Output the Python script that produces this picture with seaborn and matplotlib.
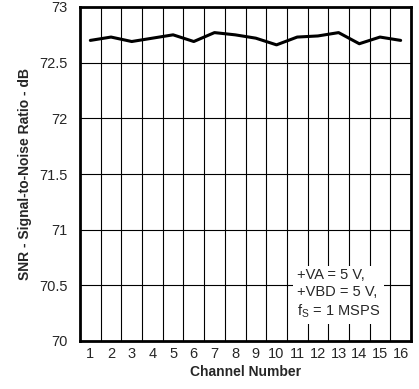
import matplotlib
matplotlib.use('Agg')
import matplotlib.pyplot as plt
import seaborn as sns
import pandas as pd
import numpy as np

# 数据
channels = list(range(1, 17))
snr_db = [72.70, 72.73, 72.69, 72.72, 72.75, 72.69, 72.77, 72.75,
          72.72, 72.66, 72.73, 72.74, 72.77, 72.67, 72.73, 72.70]
y_ticks = [70, 70.5, 71, 71.5, 72, 72.5, 73]

df = pd.DataFrame({'channel': channels, 'snr': snr_db})

sns.set_style('white')
plt.rcParams['font.family'] = ['Liberation Sans', 'DejaVu Sans']

fig = plt.figure(figsize=(4.19, 3.89), dpi=100)
ax = fig.add_axes([80 / 419, 48 / 389, 331 / 419, 334 / 389])

# 网格线（通道之间）
for b in np.arange(1.5, 16, 1):
    ax.axvline(b, color='black', lw=0.8, zorder=1)
for t in y_ticks[1:-1]:
    ax.axhline(t, color='black', lw=0.8, zorder=1)

sns.lineplot(data=df, x='channel', y='snr', ax=ax, color='black', lw=2.2, zorder=3)

ax.set_xlim(0.5, 16.5)
ax.set_ylim(70, 73)
ax.set_xticks(channels)
ax.set_xticklabels([str(c) for c in channels])
ax.set_yticks(y_ticks)
ax.set_yticklabels(['70', '70.5', '71', '71.5', '72', '72.5', '73'])
ax.tick_params(axis='x', length=0, labelsize=10.5, pad=4)
ax.tick_params(axis='y', length=0, labelsize=10.5, pad=9)
ax.set_xlabel('Channel Number', fontsize=10, fontweight='bold', labelpad=3)
ax.set_ylabel('SNR - Signal-to-Noise Ratio - dB', fontsize=10, fontweight='bold', labelpad=5)

for s in ax.spines.values():
    s.set_linewidth(2)
    s.set_color('black')

ax.text(0.655, 0.063, '+VA = 5 V,\n+VBD = 5 V,\nf$_\\mathregular{S}$ = 1 MSPS',
        transform=ax.transAxes, fontsize=10.5, ha='left', va='bottom',
        linespacing=1.25, zorder=4,
        bbox=dict(facecolor='white', edgecolor='none', pad=3))

fig.savefig('out.png', dpi=100)
